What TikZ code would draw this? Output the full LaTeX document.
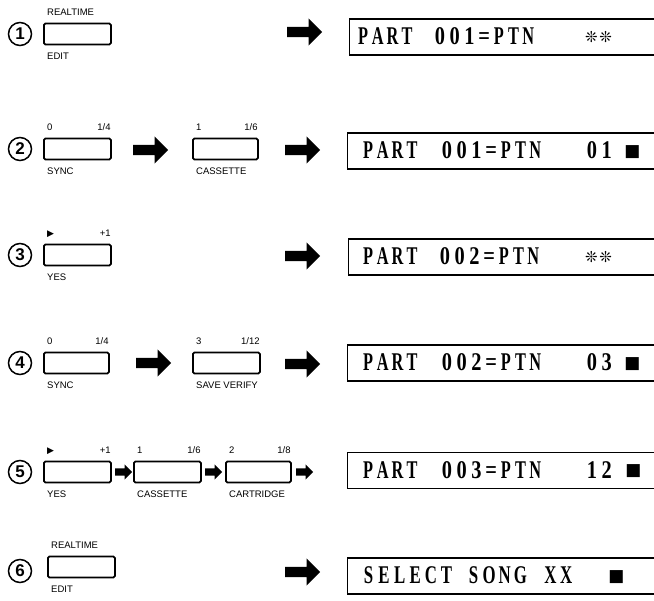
\documentclass[tikz,border=0pt]{standalone}
\usepackage{fontspec}
\setmainfont{Liberation Serif}
\newfontfamily\lblfont{Liberation Sans}
\newfontfamily\symfont{DejaVu Sans}
\usetikzlibrary{shapes.arrows}
\newcommand\lc[1]{\makebox[14.7pt][c]{\scalebox{0.64}[1]{#1}}}
\newcommand\ld[1]{\makebox[14.7pt][c]{\scalebox{0.8}[1]{#1}}}
\newcommand\lcw[1]{\makebox[15.6pt][c]{\scalebox{0.66}[1]{#1}}}
\tikzset{
  btn/.style={draw, line width=1.8pt, rounded corners=1.5pt, minimum width=67pt, minimum height=21pt, inner sep=0pt, anchor=west},
  lbl/.style={font=\lblfont\fontsize{9.5}{10}\selectfont, inner sep=0pt},
  sym/.style={font=\symfont\fontsize{9}{9}\selectfont, inner sep=0pt},
  numc/.style={circle, draw, line width=1.5pt, minimum size=23pt, inner sep=0pt, font=\lblfont\bfseries\fontsize{17}{17}\selectfont},
  bigarrow/.style={single arrow, fill=black, draw=none, inner sep=5pt, minimum height=35pt, single arrow head extend=8.5pt, anchor=west},
  smallarrow/.style={single arrow, fill=black, draw=none, inner sep=3.5pt, minimum height=17pt, single arrow head extend=4pt, anchor=west},
  disp/.style={draw, line width=1.4pt, minimum width=312pt, minimum height=36pt, inner sep=0pt, anchor=west},
  lcd/.style={font=\bfseries\fontsize{25.5}{25.5}\selectfont, inner sep=0pt, anchor=base west},
  star/.style={font=\symfont\fontsize{15}{15}\selectfont, inner sep=0pt, anchor=west},
  sq/.style={font=\symfont\fontsize{17}{17}\selectfont, inner sep=0pt, anchor=center}
}
\newcommand\toplbl[4]{%
  \node[lbl, anchor=base west] (#4l) at ([xshift=4pt,yshift=7pt]#1.north west) {#2};
  \node[lbl, anchor=base east] (#4r) at ([xshift=-1pt,yshift=7pt]#1.north east) {#3};}
\newcommand\botlbl[3]{%
  \node[lbl, anchor=base west] (#3) at ([xshift=4pt,yshift=-14pt]#1.south west) {#2};}
\begin{document}
\begin{tikzpicture}[x=1pt,y=-1pt]
\useasboundingbox (0,0) rectangle (654,601);
\clip (0,0) rectangle (654,601);

% ---------- Row 1 ----------
\node[numc] (n1) at (20,34) {1};
\node[btn] (b1) at (43,34) {};
\node[lbl, anchor=base west] (b1t) at ([xshift=4pt,yshift=7pt]b1.north west) {REALTIME};
\botlbl{b1}{EDIT}{b1b}
\node[bigarrow] (a1) at (287,32) {};
\node[disp] (d1) at (349,37) {};
\node[lcd] (d1a) at (355.5,45) {\lc P\lc A\lc R\lc T};
\node[lcd] (d1b) at (432.5,45) {\ld 0\ld 0\ld 1\ld =\lc P\lc T\lc N};
\node[star] (d1c) at (585,37.5) {❊\hspace{1.5pt}❊};

% ---------- Row 2 ----------
\node[numc] (n2) at (20,149) {2};
\node[btn] (b2a) at (43,149) {};
\toplbl{b2a}{0}{1/4}{b2at}
\botlbl{b2a}{SYNC}{b2ab}
\node[bigarrow] (a2a) at (133,150) {};
\node[btn, minimum width=65pt] (b2b) at (192,149) {};
\toplbl{b2b}{1}{1/6}{b2bt}
\botlbl{b2b}{CASSETTE}{b2bb}
\node[bigarrow] (a2b) at (285,150) {};
\node[disp] (d2) at (347,151) {};
\node[lcd] (d2a) at (360.5,159) {\lc P\lc A\lc R\lc T};
\node[lcd] (d2b) at (439.5,159) {\ld 0\ld 0\ld 1\ld =\lc P\lc T\lc N};
\node[lcd] (d2c) at (584.5,159) {\ld 0\ld 1};
\node[sq] (d2d) at (632.5,152) {■};

% ---------- Row 3 ----------
\node[numc] (n3) at (20,255) {3};
\node[btn] (b3) at (43,255) {};
\node[sym, anchor=base west] (b3l) at ([xshift=4pt,yshift=7pt]b3.north west) {▶};
\node[lbl, anchor=base east] (b3r) at ([xshift=-1pt,yshift=7pt]b3.north east) {+1};
\botlbl{b3}{YES}{b3b}
\node[bigarrow] (a3) at (285,256) {};
\node[disp] (d3) at (348,257) {};
\node[lcd] (d3a) at (360.5,265) {\lc P\lc A\lc R\lc T};
\node[lcd] (d3b) at (437.5,265) {\ld 0\ld 0\ld 2\ld =\lc P\lc T\lc N};
\node[star] (d3c) at (585,257.5) {❊\hspace{1.5pt}❊};

% ---------- Row 4 ----------
\node[numc] (n4) at (20,363) {4};
\node[btn, minimum width=65pt] (b4a) at (43,363) {};
\toplbl{b4a}{0}{1/4}{b4at}
\botlbl{b4a}{SYNC}{b4ab}
\node[bigarrow] (a4a) at (136,363) {};
\node[btn] (b4b) at (192,363) {};
\toplbl{b4b}{3}{1/12}{b4bt}
\botlbl{b4b}{SAVE VERIFY}{b4bb}
\node[bigarrow] (a4b) at (285,364) {};
\node[disp] (d4) at (347,363) {};
\node[lcd] (d4a) at (360.5,371) {\lc P\lc A\lc R\lc T};
\node[lcd] (d4b) at (439.5,371) {\ld 0\ld 0\ld 2\ld =\lc P\lc T\lc N};
\node[lcd] (d4c) at (584.5,371) {\ld 0\ld 3};
\node[sq] (d4d) at (632.5,364) {■};

% ---------- Row 5 ----------
\node[numc] (n5) at (20,472) {5};
\node[btn] (b5a) at (43,472) {};
\node[sym, anchor=base west] (b5al) at ([xshift=4pt,yshift=7pt]b5a.north west) {▶};
\node[lbl, anchor=base east] (b5ar) at ([xshift=-1pt,yshift=7pt]b5a.north east) {+1};
\botlbl{b5a}{YES}{b5ab}
\node[smallarrow] (s5a) at (115,472) {};
\node[btn] (b5b) at (133,472) {};
\toplbl{b5b}{1}{1/6}{b5bt}
\botlbl{b5b}{CASSETTE}{b5bb}
\node[smallarrow] (s5b) at (205,472) {};
\node[btn, minimum width=65pt] (b5c) at (225,472) {};
\toplbl{b5c}{2}{1/8}{b5ct}
\botlbl{b5c}{CARTRIDGE}{b5cb}
\node[smallarrow] (s5c) at (296,472) {};
\node[disp] (d5) at (347,470.5) {};
\node[lcd] (d5a) at (360.5,478.5) {\lc P\lc A\lc R\lc T};
\node[lcd] (d5b) at (439.5,478.5) {\ld 0\ld 0\ld 3\ld =\lc P\lc T\lc N};
\node[lcd] (d5c) at (584.5,478.5) {\ld 1\ld 2};
\node[sq] (d5d) at (633.5,471.5) {■};

% ---------- Row 6 ----------
\node[numc] (n6) at (20,571) {6};
\node[btn] (b6) at (47,567) {};
\node[lbl, anchor=base west] (b6t) at ([xshift=4pt,yshift=7pt]b6.north west) {REALTIME};
\botlbl{b6}{EDIT}{b6b}
\node[bigarrow] (a6) at (285,572) {};
\node[disp] (d6) at (347,576) {};
\node[lcd] (d6a) at (360.5,584) {\lcw S\lcw E\lcw L\lcw E\lcw C\lcw T};
\node[lcd] (d6b) at (465.5,584) {\lcw S\lcw O\lcw N\lcw G};
\node[lcd] (d6c) at (542.5,584) {\lcw X\lcw X};
\node[sq] (d6d) at (616.5,577) {■};
\end{tikzpicture}
\end{document}
